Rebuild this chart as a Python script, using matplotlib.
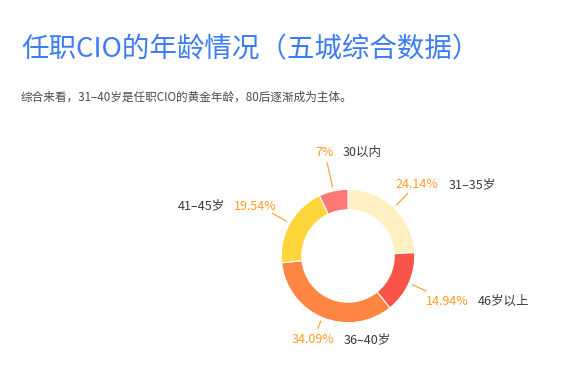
import numpy as np
import matplotlib
matplotlib.use('Agg')
import matplotlib.pyplot as plt

plt.rcParams['font.family'] = ['Noto Sans CJK SC', 'DejaVu Sans']

# Data
categories = ['31–35岁', '46岁以上', '36–40岁', '41–45岁', '30以内']
values = [24.14, 14.94, 34.09, 19.54, 7]
colors = ['#FFF0C2', '#FA5348', '#FF8542', '#FFD53C', '#FF7878']

title = '任职CIO的年龄情况（五城综合数据）'
subtitle = '综合来看，31–40岁是任职CIO的黄金年龄，80后逐渐成为主体。'

W, H = 571, 366
fig = plt.figure(figsize=(W / 100, H / 100), dpi=100)
ax = fig.add_axes([0, 0, 1, 1])

# ring geometry (pixels, y up)
cx, cy = 348, H - 256
r_out, ring_w = 66.7, 20.5

ax.pie(values, colors=colors, startangle=90, counterclock=False,
       radius=r_out, center=(cx, cy),
       wedgeprops=dict(width=ring_w, edgecolor='white', linewidth=0.8))
ax.set_xlim(0, W)
ax.set_ylim(0, H)
ax.set_aspect('equal')
ax.axis('off')

# label lines + text
pct_color = '#FF9B22'
line_end_r = [87, 86, 79, 87, 96]
# text offset from line end (dx, dy in pixels, y down), alignment
txt_off = [(-12, -8, 'left'), (-1, 10, 'left'), (-26, 11, 'left'),
           (4, -7, 'right'), (-12, -10, 'left')]

total = sum(values)
cum = np.cumsum([0] + values[:-1]) / total
mids = (cum + np.array(values) / total / 2) * 2 * np.pi  # clockwise from top

for i, (cat, v) in enumerate(zip(categories, values)):
    a = mids[i]
    sx, sy = cx + 70 * np.sin(a), cy + 70 * np.cos(a)
    ex, ey = cx + line_end_r[i] * np.sin(a), cy + line_end_r[i] * np.cos(a)
    ax.plot([sx, ex], [sy, ey], color='#FFA43A', lw=0.9, solid_capstyle='butt')
    dx, dy, ha = txt_off[i]
    t = ax.text(ex + dx, ey - dy, f'{v:g}%', color=pct_color, fontsize=9,
                ha=ha, va='center')
    if ha == 'left':
        ax.annotate(cat, xy=(1, 0.5), xycoords=t, xytext=(7, 0),
                    textcoords='offset points', ha='left', va='center',
                    color='#3A3A3A', fontsize=9)
    else:
        ax.annotate(cat, xy=(0, 0.5), xycoords=t, xytext=(-6, 0),
                    textcoords='offset points', ha='right', va='center',
                    color='#3A3A3A', fontsize=9)

fig.text(21 / W, 1 - 50 / H, title, color='#3D7CF6', fontsize=19.8,
         fontweight='medium', ha='left', va='center')
fig.text(21 / W, 1 - 97 / H, subtitle, color='#4A4A4A', fontsize=8.4,
         ha='left', va='center')

fig.savefig('out.png', dpi=100, facecolor='white')
